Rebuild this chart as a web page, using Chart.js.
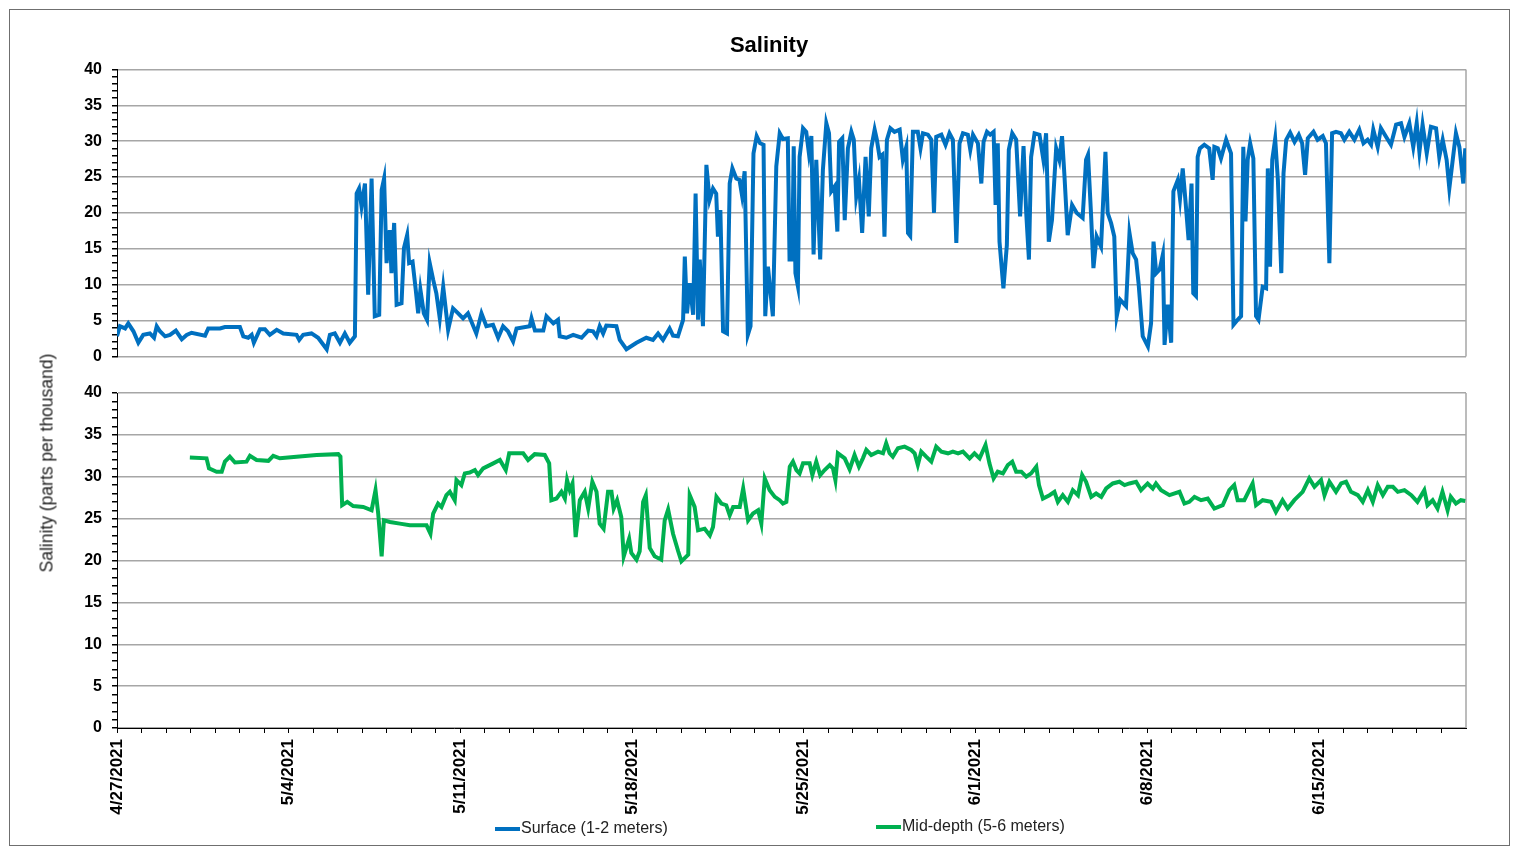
<!DOCTYPE html>
<html>
<head>
<meta charset="utf-8">
<script src="https://cdn.jsdelivr.net/npm/chart.js@4.4.1/dist/chart.umd.min.js"></script>
<style>
	body { margin: 0; background: #fff; font-family: "Liberation Sans", Arial, sans-serif; }
	#frame { position: absolute; left: 9px; top: 9px; width: 1501px; height: 837px; border: 1px solid #6f6f6f; box-sizing: border-box; }
	canvas { position: absolute; left: 0; }
	#top-chart { top: 0; }
	#bottom-chart { top: 366px; }
	#y-title { position: absolute; left: 47px; top: 463px; transform: translate(-50%, -50%) rotate(-90deg); white-space: nowrap; font-size: 17.5px; color: #222; }
	.legend { position: absolute; font-size: 16px; color: #222; white-space: nowrap; line-height: 18px; }
	.legend i { display: inline-block; width: 25px; height: 4px; vertical-align: middle; margin-right: 1px; }
</style>
</head>
<body>
<div id="frame"></div>
<canvas id="top-chart" width="1517" height="376"></canvas>
<canvas id="bottom-chart" width="1517" height="497"></canvas>
<div id="y-title">Salinity (parts per thousand)</div>
<div class="legend" style="left:495px; top:819px;"><i style="background:#0070C0"></i>Surface (1-2 meters)</div>
<div class="legend" style="left:876px; top:817px;"><i style="background:#00B050"></i>Mid-depth (5-6 meters)</div>
<script>
// ============= Data =============

// days since 4/27/2021
const dateLabels = [ "4/27/2021", "5/4/2021", "5/11/2021", "5/18/2021", "5/25/2021", "6/1/2021", "6/8/2021", "6/15/2021" ];

const surfaceDays = [
	0.0, 0.12, 0.33, 0.46, 0.67, 0.87, 1.07, 1.34, 1.51, 1.62, 1.75, 1.96, 2.16, 2.40, 2.64, 2.84, 3.04, 3.59, 3.72, 4.20,
	4.40, 5.01, 5.15, 5.35, 5.49, 5.58, 5.83, 6.03, 6.23, 6.51, 6.78, 7.32, 7.43, 7.59, 7.93, 8.20, 8.55, 8.68, 8.88, 9.09,
	9.29, 9.49, 9.70, 9.77, 9.87, 9.97, 10.11, 10.24, 10.38, 10.51, 10.69, 10.79, 10.89, 10.99, 11.12, 11.19, 11.30, 11.40, 11.60, 11.70,
	11.83, 11.91, 12.05, 12.18, 12.28, 12.37, 12.51, 12.64, 12.75, 12.89, 13.02, 13.16, 13.30, 13.50, 13.70, 13.91, 14.11, 14.31, 14.65, 14.86,
	15.06, 15.33, 15.54, 15.74, 15.94, 16.15, 16.29, 16.83, 16.90, 17.04, 17.38, 17.51, 17.79, 17.98, 18.05, 18.32, 18.60, 18.94, 19.21, 19.41,
	19.55, 19.68, 19.82, 19.95, 20.36, 20.50, 20.77, 21.18, 21.58, 21.85, 22.06, 22.26, 22.53, 22.67, 22.87, 23.08, 23.15, 23.24, 23.35, 23.49,
	23.59, 23.69, 23.76, 23.89, 24.03, 24.16, 24.30, 24.43, 24.50, 24.60, 24.71, 24.87, 24.98, 25.09, 25.25, 25.38, 25.48, 25.59, 25.72, 25.83,
	25.95, 26.08, 26.22, 26.36, 26.43, 26.54, 26.74, 26.88, 27.02, 27.15, 27.35, 27.42, 27.53, 27.59, 27.66, 27.76, 27.83, 27.97, 28.10, 28.21,
	28.31, 28.40, 28.51, 28.67, 28.78, 28.92, 29.03, 29.12, 29.26, 29.37, 29.44, 29.57, 29.67, 29.80, 29.94, 30.04, 30.14, 30.25, 30.38, 30.52,
	30.65, 30.75, 30.89, 30.98, 31.09, 31.20, 31.29, 31.39, 31.53, 31.70, 31.91, 32.04, 32.18, 32.25, 32.34, 32.45, 32.65, 32.76, 32.86, 33.06,
	33.20, 33.31, 33.40, 33.61, 33.78, 33.94, 34.08, 34.22, 34.35, 34.49, 34.69, 34.79, 34.90, 35.10, 35.24, 35.33, 35.47, 35.60, 35.74, 35.82,
	35.91, 35.98, 36.14, 36.28, 36.36, 36.50, 36.66, 36.82, 36.96, 37.07, 37.18, 37.27, 37.41, 37.61, 37.77, 37.88, 37.99, 38.12, 38.29, 38.42,
	38.53, 38.63, 38.76, 38.94, 39.13, 39.37, 39.51, 39.59, 39.71, 39.81, 39.94, 40.12, 40.30, 40.39, 40.53, 40.66, 40.76, 40.90, 41.14, 41.28,
	41.41, 41.55, 41.65, 41.82, 42.03, 42.16, 42.26, 42.37, 42.51, 42.64, 42.71, 42.84, 42.98, 43.07, 43.25, 43.34, 43.45, 43.56, 43.69, 43.81,
	43.88, 43.99, 44.06, 44.15, 44.33, 44.53, 44.67, 44.74, 44.88, 45.01, 45.22, 45.42, 45.52, 45.69, 45.83, 45.92, 46.01, 46.10, 46.20, 46.33,
	46.44, 46.54, 46.71, 46.85, 46.92, 47.01, 47.10, 47.22, 47.33, 47.47, 47.56, 47.67, 47.83, 48.01, 48.18, 48.32, 48.44, 48.55, 48.78, 48.95,
	49.16, 49.29, 49.43, 49.54, 49.70, 49.90, 50.04, 50.24, 50.45, 50.65, 50.82, 50.99, 51.13, 51.22, 51.40, 51.53, 51.74, 51.94, 52.15, 52.35,
	52.49, 52.69, 52.85, 52.99, 53.10, 53.23, 53.40, 53.57, 53.78, 53.91, 54.05, 54.21, 54.32, 54.46, 54.59, 54.73, 54.89, 54.97
];

const surfaceSalinity = [
	2.8, 4.2, 3.9, 4.6, 3.5, 1.9, 3.0, 3.2, 2.6, 4.2, 3.5, 2.8, 3.0, 3.6, 2.4, 3.0, 3.3, 2.9, 3.9, 3.9,
	4.1, 4.1, 2.8, 2.6, 3.0, 1.9, 3.8, 3.8, 3.0, 3.7, 3.2, 3.0, 2.3, 3.0, 3.2, 2.6, 1.0, 3.0, 3.2, 1.9,
	3.2, 1.9, 2.8, 22.7, 23.4, 20.9, 24.1, 8.6, 24.8, 5.6, 5.8, 23.2, 24.8, 13.0, 17.6, 11.6, 18.6, 7.2, 7.4, 15.1,
	16.9, 13.0, 13.2, 9.3, 6.0, 9.3, 6.0, 5.1, 13.0, 10.7, 8.8, 5.3, 9.7, 3.7, 6.7, 6.0, 5.3, 6.0, 3.2, 6.0,
	4.2, 4.4, 2.6, 4.2, 3.5, 2.1, 3.9, 4.2, 5.3, 3.6, 3.6, 5.6, 4.6, 5.1, 2.8, 2.6, 3.0, 2.6, 3.6, 3.5,
	2.8, 4.2, 3.2, 4.3, 4.2, 2.3, 1.0, 1.9, 2.6, 2.3, 3.2, 2.3, 3.9, 2.9, 2.8, 5.1, 13.9, 6.0, 10.2, 5.8,
	22.7, 5.1, 13.5, 4.2, 26.7, 21.8, 23.4, 22.7, 16.7, 20.4, 3.5, 3.2, 24.1, 26.2, 24.8, 24.6, 22.5, 25.8, 3.0, 4.2,
	28.3, 30.7, 29.7, 29.5, 5.6, 12.5, 5.6, 26.5, 31.1, 30.3, 30.4, 13.5, 13.5, 29.3, 11.6, 9.8, 27.8, 31.8, 31.3, 28.3,
	30.7, 14.2, 27.4, 13.5, 26.0, 32.5, 31.1, 23.0, 23.7, 17.4, 29.9, 30.4, 19.0, 29.0, 31.3, 30.2, 22.3, 24.6, 17.2, 27.8,
	19.5, 29.0, 31.6, 30.2, 27.8, 28.1, 16.7, 30.2, 31.8, 31.3, 31.6, 27.4, 29.2, 17.2, 16.8, 31.3, 31.3, 29.0, 31.1, 30.9,
	30.2, 20.0, 30.6, 30.9, 29.5, 31.1, 30.2, 15.8, 29.7, 31.1, 30.9, 28.8, 30.9, 29.7, 24.1, 29.9, 31.3, 30.9, 31.3, 21.1,
	29.7, 16.0, 9.5, 15.5, 28.8, 31.1, 30.2, 19.5, 29.3, 20.0, 13.5, 27.8, 31.1, 30.9, 27.4, 31.1, 16.0, 19.0, 29.0, 27.4,
	30.7, 25.1, 16.9, 21.1, 20.0, 19.3, 27.4, 28.1, 20.0, 12.3, 16.7, 15.3, 28.5, 20.0, 18.6, 16.7, 5.6, 7.9, 7.0, 17.2,
	14.4, 13.5, 10.2, 2.8, 1.4, 4.6, 16.0, 11.6, 12.1, 14.2, 1.6, 7.2, 1.9, 23.0, 24.6, 22.0, 26.2, 21.8, 16.2, 24.1,
	8.8, 8.4, 27.8, 29.0, 29.5, 29.0, 24.6, 29.2, 29.0, 27.6, 30.2, 28.3, 4.4, 5.1, 5.6, 29.2, 18.8, 27.4, 29.7, 27.6,
	5.6, 5.1, 9.7, 9.5, 26.2, 12.5, 27.4, 30.3, 24.6, 11.6, 25.5, 30.2, 31.2, 29.9, 30.9, 29.7, 25.3, 30.4, 31.3, 30.2,
	30.7, 29.7, 13.0, 31.1, 31.3, 31.1, 30.2, 31.3, 30.2, 31.6, 29.7, 30.2, 29.5, 31.6, 29.2, 31.8, 30.6, 29.5, 32.3, 32.5,
	30.6, 32.5, 29.2, 32.5, 28.5, 32.3, 28.3, 32.0, 31.8, 27.8, 30.2, 27.4, 23.4, 27.4, 31.1, 29.2, 24.1, 29.0
];

const midDays = [
	2.97, 3.65, 3.75, 4.06, 4.27, 4.40, 4.60, 4.81, 5.28, 5.42, 5.69, 6.17, 6.37, 6.64, 7.32, 8.14, 9.02, 9.11, 9.18, 9.39,
	9.63, 10.04, 10.38, 10.54, 10.65, 10.79, 10.88, 11.13, 11.53, 11.94, 12.62, 12.78, 12.89, 13.09, 13.23, 13.43, 13.57, 13.77, 13.84, 14.04,
	14.18, 14.38, 14.59, 14.72, 14.93, 15.34, 15.61, 15.85, 15.99, 16.56, 16.76, 17.03, 17.44, 17.62, 17.71, 17.92, 18.12, 18.26, 18.35, 18.46,
	18.57, 18.70, 18.87, 19.07, 19.21, 19.38, 19.55, 19.68, 19.84, 20.02, 20.16, 20.25, 20.39, 20.56, 20.66, 20.88, 20.97, 21.18, 21.31, 21.45,
	21.56, 21.72, 21.92, 22.19, 22.33, 22.47, 22.67, 22.88, 23.01, 23.29, 23.35, 23.55, 23.69, 23.96, 24.17, 24.30, 24.44, 24.64, 24.84, 24.98,
	25.12, 25.39, 25.53, 25.73, 25.93, 26.14, 26.27, 26.41, 26.61, 26.82, 27.02, 27.15, 27.29, 27.43, 27.56, 27.70, 27.83, 27.97, 28.24, 28.35,
	28.51, 28.67, 28.85, 29.06, 29.19, 29.29, 29.39, 29.67, 29.87, 30.07, 30.25, 30.41, 30.55, 30.75, 31.03, 31.23, 31.36, 31.50, 31.63, 31.84,
	32.11, 32.38, 32.52, 32.65, 32.79, 32.99, 33.20, 33.40, 33.61, 33.88, 34.08, 34.29, 34.49, 34.76, 34.96, 35.17, 35.41, 35.57, 35.74, 35.91,
	36.12, 36.32, 36.50, 36.66, 36.87, 37.07, 37.27, 37.48, 37.59, 37.75, 38.02, 38.22, 38.36, 38.56, 38.77, 38.97, 39.18, 39.35, 39.51, 39.72,
	39.92, 40.13, 40.33, 40.60, 40.87, 41.08, 41.28, 41.55, 41.75, 42.02, 42.23, 42.36, 42.57, 42.91, 43.32, 43.52, 43.72, 43.93, 44.20, 44.47,
	44.74, 45.08, 45.35, 45.55, 45.69, 45.96, 46.30, 46.44, 46.71, 47.05, 47.25, 47.52, 47.73, 48.00, 48.34, 48.61, 48.82, 49.09, 49.23, 49.43,
	49.70, 49.91, 50.11, 50.31, 50.59, 50.79, 51.00, 51.20, 51.40, 51.61, 51.81, 52.02, 52.22, 52.49, 52.77, 53.02, 53.30, 53.43, 53.64, 53.84,
	54.04, 54.25, 54.38, 54.59, 54.79, 54.97
];

const midSalinity = [
	32.3, 32.2, 31.0, 30.6, 30.6, 31.8, 32.4, 31.7, 31.8, 32.5, 32.0, 31.9, 32.5, 32.2, 32.4, 32.6, 32.7, 32.4, 26.6, 27.0,
	26.5, 26.4, 26.0, 28.4, 25.6, 20.5, 24.8, 24.6, 24.4, 24.2, 24.2, 23.2, 25.6, 26.8, 26.4, 27.8, 28.2, 27.2, 29.6, 29.0,
	30.4, 30.5, 30.8, 30.2, 31.0, 31.6, 32.0, 30.8, 32.8, 32.8, 32.0, 32.7, 32.6, 31.6, 27.2, 27.4, 28.2, 27.4, 29.6, 28.4,
	29.2, 22.8, 27.2, 28.2, 26.2, 29.4, 28.2, 24.4, 23.8, 28.2, 28.2, 26.2, 27.2, 25.2, 20.5, 22.6, 20.9, 20.1, 21.1, 27.0,
	27.8, 21.5, 20.5, 20.1, 24.8, 26.1, 23.2, 21.1, 19.9, 20.7, 27.8, 26.4, 23.6, 23.8, 23.0, 24.0, 27.6, 26.8, 26.6, 25.4,
	26.4, 26.4, 28.6, 24.8, 25.6, 26.0, 24.4, 29.8, 28.4, 27.6, 27.2, 26.8, 27.0, 31.2, 31.8, 30.8, 30.4, 31.6, 31.6, 30.2,
	31.8, 30.2, 30.8, 31.4, 31.0, 29.6, 32.8, 32.2, 30.9, 32.6, 31.2, 32.2, 33.2, 32.6, 33.0, 32.8, 34.0, 32.8, 32.4, 33.4,
	33.6, 33.2, 32.8, 31.4, 33.0, 32.4, 31.8, 33.6, 33.0, 32.8, 33.0, 32.8, 33.0, 32.2, 32.8, 32.2, 33.8, 31.6, 29.8, 30.6,
	30.4, 31.4, 31.8, 30.6, 30.6, 30.0, 30.4, 31.2, 29.0, 27.4, 27.8, 28.2, 27.0, 27.8, 27.0, 28.4, 27.8, 30.2, 29.4, 27.6,
	28.0, 27.6, 28.6, 29.2, 29.4, 29.0, 29.2, 29.4, 28.4, 29.2, 28.6, 29.2, 28.4, 27.8, 28.2, 26.8, 27.0, 27.6, 27.2, 27.4,
	26.2, 26.6, 28.4, 29.0, 27.2, 27.2, 29.2, 26.6, 27.2, 27.0, 25.8, 27.2, 26.2, 27.2, 28.2, 29.8, 28.8, 29.6, 27.8, 29.4,
	28.2, 29.2, 29.4, 28.2, 27.8, 27.0, 28.4, 27.0, 29.0, 27.8, 28.8, 28.8, 28.2, 28.4, 27.8, 27.0, 28.4, 26.6, 27.2, 26.2,
	28.2, 26.0, 27.6, 26.8, 27.2, 27.1
];

// ============= Helpers =============

const FONT = "'Liberation Sans', Arial, sans-serif";
const GRID_GRAY = "#a6a6a6";

function points(days, values)
{
	return days.map((d, i) => ({ x: d, y: values[i] }));
}

function yScale(width)
{
	return {
		min: 0,
		max: 40,
		ticks: {
			stepSize: 1,
			autoSkip: false,
			padding: 10,
			color: "#000",
			font: { family: FONT, size: 16, weight: "bold" },
			callback: v => v % 5 === 0 ? v : ""
		},
		grid: {
			color: ctx => ctx.tick && ctx.tick.value % 5 === 0 ? GRID_GRAY : "transparent",
			lineWidth: 1.5,
			tickColor: "#000",
			tickLength: 5
		},
		border: { color: "#000", width: 1 },
		afterFit: scale => { scale.width = width; }
	};
}

// gray frame line on the right of each plot
const rightEdge = {
	id: "rightEdge",
	beforeDatasetsDraw(chart)
	{
		const { ctx, chartArea } = chart;
		ctx.save();
		ctx.strokeStyle = GRID_GRAY;
		ctx.lineWidth = 1.5;
		ctx.beginPath();
		ctx.moveTo(chartArea.right, chartArea.top);
		ctx.lineTo(chartArea.right, chartArea.bottom);
		ctx.stroke();
		ctx.restore();
	}
};

function lineDataset(label, data, color)
{
	return { label, data, borderColor: color, backgroundColor: color, borderWidth: 4, pointRadius: 0, tension: 0 };
}

// ============= Charts =============

new Chart(document.getElementById("top-chart"), {
	type: "line",
	data: { datasets: [ lineDataset("Surface (1-2 meters)", points(surfaceDays, surfaceSalinity), "#0070C0") ] },
	plugins: [ rightEdge ],
	options: {
		responsive: false,
		animation: false,
		events: [],
		// left padding + axis width = 117, and keeps the title centred on the frame
		layout: { padding: { left: 72, right: 51, top: 0, bottom: 0 } },
		plugins: {
			legend: { display: false },
			tooltip: { enabled: false },
			title: {
				display: true,
				text: "Salinity",
				color: "#000",
				font: { family: FONT, size: 22, weight: "bold" },
				padding: { top: 33, bottom: 10 }
			}
		},
		scales: {
			x: { type: "linear", min: 0, max: 55, display: false },
			y: yScale(45)
		}
	}
});

new Chart(document.getElementById("bottom-chart"), {
	type: "line",
	data: { datasets: [ lineDataset("Mid-depth (5-6 meters)", points(midDays, midSalinity), "#00B050") ] },
	plugins: [ rightEdge ],
	options: {
		responsive: false,
		animation: false,
		events: [],
		layout: { padding: { left: 0, right: 51, top: 27, bottom: 0 } },
		plugins: { legend: { display: false }, tooltip: { enabled: false } },
		scales: {
			x: {
				type: "linear",
				min: 0,
				max: 55,
				ticks: {
					stepSize: 1,
					autoSkip: false,
					minRotation: 90,
					maxRotation: 90,
					padding: 6,
					color: "#000",
					font: { family: FONT, size: 17, weight: "bold" },
					callback: v => v % 7 === 0 ? dateLabels[v / 7] : ""
				},
				grid: {
					drawOnChartArea: false,
					tickLength: 5,
					tickColor: ctx => ctx.tick && ctx.tick.value === 55 ? "transparent" : "#000"
				},
				border: { color: "#000", width: 1 },
				afterFit: scale => { scale.height = 135; }
			},
			y: yScale(117)
		}
	}
});
</script>
</body>
</html>
